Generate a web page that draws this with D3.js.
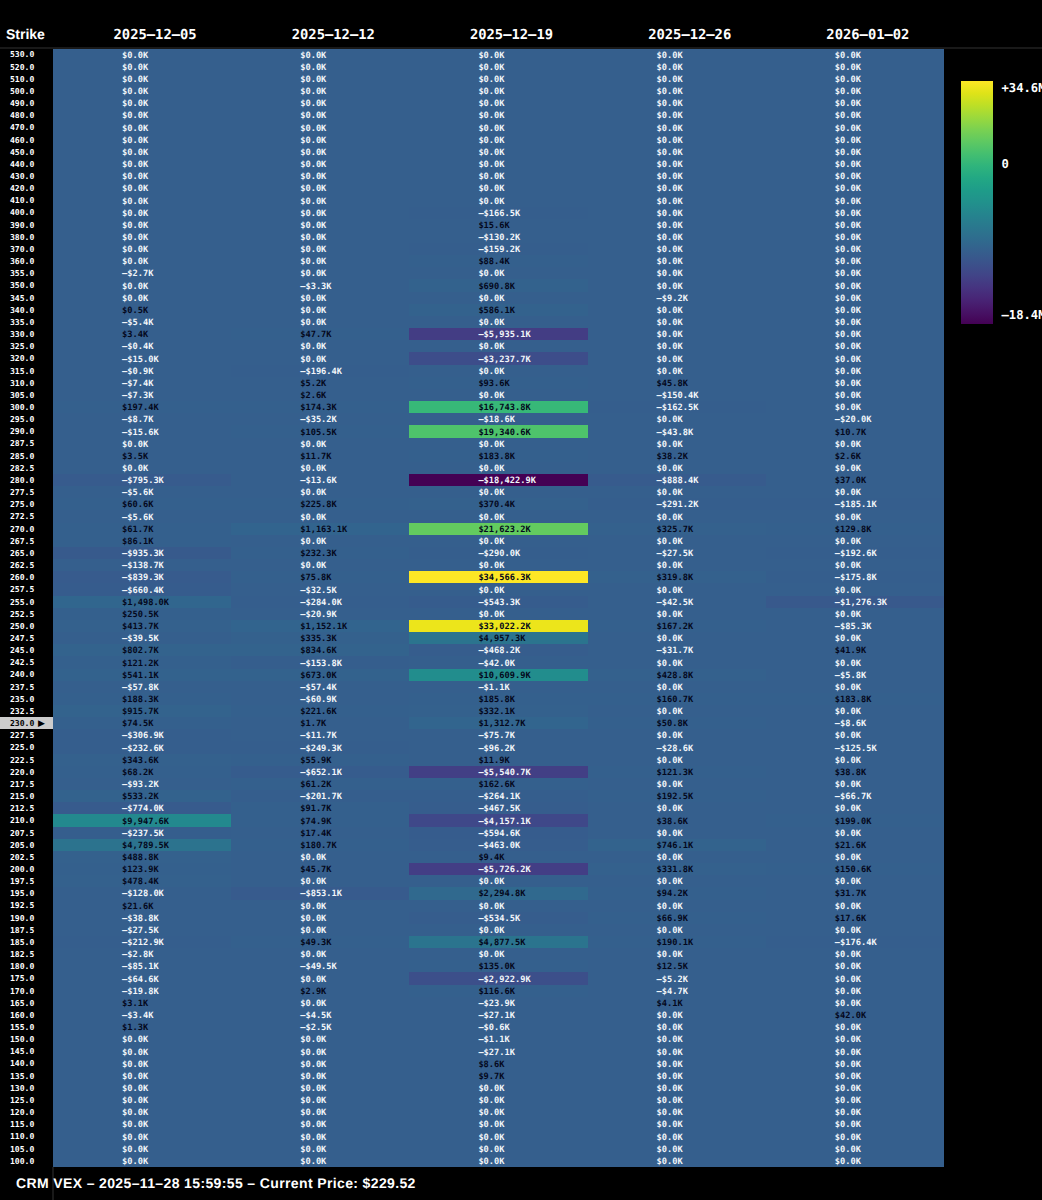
<!DOCTYPE html>
<html>
<head>
<meta charset="utf-8">
<script src="https://cdn.jsdelivr.net/npm/d3@7"></script>
<style>
  html, body { margin: 0; padding: 0; background: #000; overflow: hidden; }
  text { font-family: "DejaVu Sans Mono", monospace; font-weight: bold; text-rendering: geometricPrecision; }
</style>
</head>
<body>
<svg id="chart"></svg>
<script>
const expiries = ["2025–12–05", "2025–12–12", "2025–12–19", "2025–12–26", "2026–01–02"];
const strikes = [
  530, 520, 510, 500, 490, 480, 470, 460, 450, 440, 430, 420, 410, 400, 390, 380, 370, 360,
  355, 350, 345, 340, 335, 330, 325, 320, 315, 310, 305, 300, 295, 290,
  287.5, 285, 282.5, 280, 277.5, 275, 272.5, 270, 267.5, 265, 262.5, 260, 257.5, 255, 252.5, 250,
  247.5, 245, 242.5, 240, 237.5, 235, 232.5, 230, 227.5, 225, 222.5, 220, 217.5, 215, 212.5, 210,
  207.5, 205, 202.5, 200, 197.5, 195, 192.5, 190, 187.5, 185, 182.5, 180,
  175, 170, 165, 160, 155, 150, 145, 140, 135, 130, 125, 120, 115, 110, 105, 100
];
// values in $K, same order as strikes
const vex_1205 = [
  0, 0, 0, 0, 0, 0, 0, 0, 0, 0, 0, 0, 0, 0, 0, 0, 0, 0,
  -2.7, 0, 0, 0.5, -5.4, 3.4, -0.4, -15.0, -0.9, -7.4, -7.3, 197.4, -8.7, -15.6,
  0, 3.5, 0, -795.3, -5.6, 60.6, -5.6, 61.7, 86.1, -935.3, -138.7, -839.3, -660.4, 1498.0, 250.5, 413.7,
  -39.5, 802.7, 121.2, 541.1, -57.8, 188.3, 915.7, 74.5, -306.9, -232.6, 343.6, 68.2, -93.2, 533.2, -774.0, 9947.6,
  -237.5, 4789.5, 488.8, 123.9, 478.4, -128.0, 21.6, -38.8, -27.5, -212.9, -2.8, -85.1,
  -64.6, -19.8, 3.1, -3.4, 1.3, 0, 0, 0, 0, 0, 0, 0, 0, 0, 0, 0
];
const vex_1212 = [
  0, 0, 0, 0, 0, 0, 0, 0, 0, 0, 0, 0, 0, 0, 0, 0, 0, 0,
  0, -3.3, 0, 0, 0, 47.7, 0, 0, -196.4, 5.2, 2.6, 174.3, -35.2, 105.5,
  0, 11.7, 0, -13.6, 0, 225.8, 0, 1163.1, 0, 232.3, 0, 75.8, -32.5, -284.0, -20.9, 1152.1,
  335.3, 834.6, -153.8, 673.0, -57.4, -60.9, 221.6, 1.7, -11.7, -249.3, 55.9, -652.1, 61.2, -201.7, 91.7, 74.9,
  17.4, 180.7, 0, 45.7, 0, -853.1, 0, 0, 0, 49.3, 0, -49.5,
  0, 2.9, 0, -4.5, -2.5, 0, 0, 0, 0, 0, 0, 0, 0, 0, 0, 0
];
const vex_1219 = [
  0, 0, 0, 0, 0, 0, 0, 0, 0, 0, 0, 0, 0, -166.5, 15.6, -130.2, -159.2, 88.4,
  0, 690.8, 0, 586.1, 0, -5935.1, 0, -3237.7, 0, 93.6, 0, 16743.8, -18.6, 19340.6,
  0, 183.8, 0, -18422.9, 0, 370.4, 0, 21623.2, 0, -290.0, 0, 34566.3, 0, -543.3, 0, 33022.2,
  4957.3, -468.2, -42.0, 10609.9, -1.1, 185.8, 332.1, 1312.7, -75.7, -96.2, 11.9, -5540.7, 162.6, -264.1, -467.5, -4157.1,
  -594.6, -463.0, 9.4, -5726.2, 0, 2294.8, 0, -534.5, 0, 4877.5, 0, 135.0,
  -2922.9, 116.6, -23.9, -27.1, -0.6, -1.1, -27.1, 8.6, 9.7, 0, 0, 0, 0, 0, 0, 0
];
const vex_1226 = [
  0, 0, 0, 0, 0, 0, 0, 0, 0, 0, 0, 0, 0, 0, 0, 0, 0, 0,
  0, 0, -9.2, 0, 0, 0, 0, 0, 0, 45.8, -150.4, -162.5, 0, -43.8,
  0, 38.2, 0, -888.4, 0, -291.2, 0, 325.7, 0, -27.5, 0, 319.8, 0, -42.5, 0, 167.2,
  0, -31.7, 0, 428.8, 0, 160.7, 0, 50.8, 0, -28.6, 0, 121.3, 0, 192.5, 0, 38.6,
  0, 746.1, 0, 331.8, 0, 94.2, 0, 66.9, 0, 190.1, 0, 12.5,
  -5.2, -4.7, 4.1, 0, 0, 0, 0, 0, 0, 0, 0, 0, 0, 0, 0, 0
];
const vex_0102 = [
  0, 0, 0, 0, 0, 0, 0, 0, 0, 0, 0, 0, 0, 0, 0, 0, 0, 0,
  0, 0, 0, 0, 0, 0, 0, 0, 0, 0, 0, 0, -20.0, 10.7,
  0, 2.6, 0, 37.0, 0, -185.1, 0, 129.8, 0, -192.6, 0, -175.8, 0, -1276.3, 0, -85.3,
  0, 41.9, 0, -5.8, 0, 183.8, 0, -8.6, 0, -125.5, 0, 38.8, 0, -66.7, 0, 199.0,
  0, 21.6, 0, 150.6, 0, 31.7, 0, 17.6, 0, -176.4, 0, 0,
  0, 0, 0, 42.0, 0, 0, 0, 0, 0, 0, 0, 0, 0, 0, 0, 0
];
const columns = [vex_1205, vex_1212, vex_1219, vex_1226, vex_0102];
const spotStrike = 230;
const legendLabels = ["+34.6M", "0", "–18.4M"];
const title = "CRM VEX – 2025–11–28 15:59:55 – Current Price: $229.52";

const width = 1042, height = 1200;
const svg = d3.select("#chart").attr("width", width).attr("height", height);

const xscale = d3.scaleBand().domain(expiries).range([53, 944]);
const yscale = d3.scaleBand().domain(strikes).range([48.5, 1167]);

// viridis position, the scale is not linear around zero
const vmin = d3.min(columns, c => d3.min(c));
const vmax = d3.max(columns, c => d3.max(c));
const color_t = d3.scaleLinear()
  .domain([vmin, -5900, 0, 10000, 16700, vmax])
  .range([0, 0.18, 0.3, 0.47, 0.67, 1]);
const color = d => d3.interpolateViridis(color_t(d));

const money = d3.format(",.1f");
const fmt = d => (d < 0 ? "–$" : "$") + money(Math.abs(d)) + "K";

const cells = [];
columns.forEach((col, i) => {
  col.forEach((v, j) => cells.push({ expiry: expiries[i], strike: strikes[j], v: v }));
});

svg.append("g").attr("shape-rendering", "crispEdges")
  .selectAll("rect").data(cells).join("rect")
  .attr("x", d => xscale(d.expiry))
  .attr("y", d => yscale(d.strike))
  .attr("width", xscale.bandwidth())
  .attr("height", yscale.bandwidth())
  .attr("fill", d => color(d.v));

svg.append("g").selectAll("text").data(cells).join("text")
  .attr("x", d => xscale(d.expiry) + 69)
  .attr("y", d => yscale(d.strike) + yscale.bandwidth() / 2)
  .attr("dy", "0.35em")
  .attr("font-size", 8.7)
  .attr("fill", d => d.v > 0 ? "#04081c" : "#f2f6fa")
  .text(d => fmt(d.v));

// strike column
svg.append("rect")
  .attr("x", 0).attr("y", yscale(spotStrike))
  .attr("width", 53).attr("height", yscale.bandwidth())
  .attr("shape-rendering", "crispEdges")
  .attr("fill", "#cccccc");

svg.append("g").selectAll("text").data(strikes).join("text")
  .attr("x", 10)
  .attr("y", d => yscale(d) + yscale.bandwidth() / 2)
  .attr("dy", "0.35em")
  .attr("font-size", 8.1)
  .attr("fill", d => d === spotStrike ? "#000" : "#fff")
  .text(d => d.toFixed(1));

svg.append("text")
  .attr("x", 38)
  .attr("y", yscale(spotStrike) + yscale.bandwidth() / 2)
  .attr("dy", "0.35em")
  .attr("font-size", 9)
  .attr("fill", "#000")
  .style("font-family", "'DejaVu Sans', sans-serif")
  .text("\u25B6");

// header
svg.append("text").attr("x", 6).attr("y", 38.5)
  .attr("font-size", 14).attr("fill", "#fff")
  .style("font-family", "'Liberation Sans', sans-serif")
  .text("Strike");

svg.append("g").selectAll("text").data(expiries).join("text")
  .attr("x", d => xscale(d) + xscale.bandwidth() / 2 + 13)
  .attr("y", 38.5)
  .attr("text-anchor", "middle")
  .attr("font-size", 13.8)
  .attr("fill", "#fff")
  .text(d => d);

svg.append("line").attr("x1", 0).attr("x2", width).attr("y1", 48).attr("y2", 48)
  .attr("stroke", "#333");
svg.append("line").attr("x1", 53).attr("x2", 53).attr("y1", 1167).attr("y2", height)
  .attr("stroke", "#333");

// colorbar
const defs = svg.append("defs");
const grad = defs.append("linearGradient").attr("id", "bar")
  .attr("x1", 0).attr("x2", 0).attr("y1", 1).attr("y2", 0);
d3.range(0, 1.001, 0.05).forEach(t => {
  grad.append("stop").attr("offset", t).attr("stop-color", d3.interpolateViridis(t));
});
svg.append("rect").attr("x", 961).attr("y", 81).attr("width", 32).attr("height", 243)
  .attr("fill", "url(#bar)");
const legend_y = d3.scalePoint().domain(legendLabels).range([88, 315]);
svg.append("g").selectAll("text").data(legendLabels).join("text")
  .attr("x", 1001.5)
  .attr("y", d => d === "0" ? 164 : legend_y(d))
  .attr("dy", "0.35em")
  .attr("font-size", 12.2)
  .attr("fill", "#fff")
  .text(d => d);

// footer
svg.append("text").attr("x", 16).attr("y", 1187.5)
  .attr("font-size", 14).attr("letter-spacing", 0.37).attr("fill", "#fff")
  .style("font-family", "'Liberation Sans', sans-serif")
  .text(title);
</script>
</body>
</html>
